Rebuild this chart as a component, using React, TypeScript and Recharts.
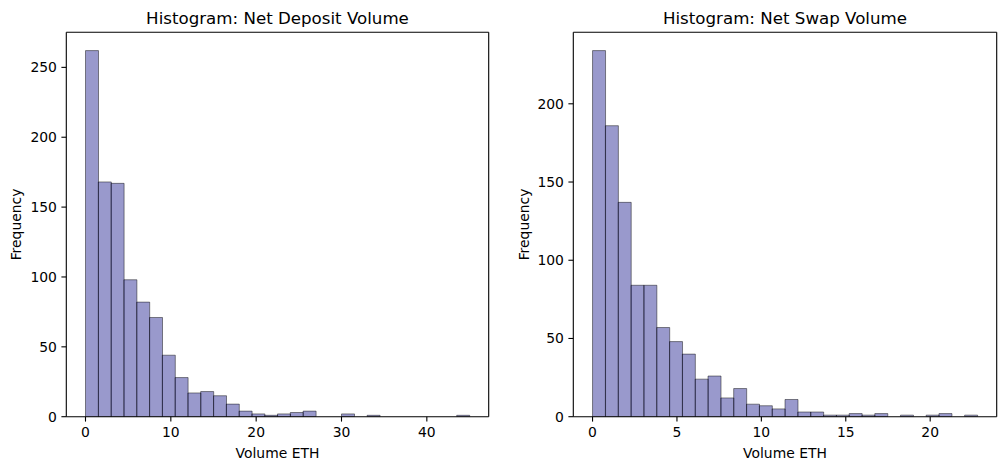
import { ComposedChart, Bar, Line, XAxis, YAxis } from 'recharts';

// bin counts (30 bins each)
const depositCounts = [262, 168, 167, 98, 82, 71, 44, 28, 17, 18, 15, 9, 4, 2, 1, 2, 3, 4, 0, 0, 2, 0, 1, 0, 0, 0, 0, 0, 0, 1];
const swapCounts = [234, 186, 137, 84, 84, 57, 48, 40, 24, 26, 12, 18, 8, 7, 5, 11, 3, 3, 1, 1, 2, 1, 2, 0, 1, 0, 1, 2, 0, 1];

// value range covered by the bins (ETH)
const depositRange = [0, 45];
const swapRange = [0, 22.8];

const depositXTicks = [0, 10, 20, 30, 40];
const swapXTicks = [0, 5, 10, 15, 20];
const depositYTicks = [0, 50, 100, 150, 200, 250];
const swapYTicks = [0, 50, 100, 150, 200];

const FONT = '"DejaVu Sans", sans-serif';
const tickStyle = { fontSize: 13.9, fill: '#000', fontFamily: FONT };
const spine = { stroke: '#000', strokeWidth: 1.1 };

interface HistProps {
  title: string;
  counts: number[];
  range: number[];
  xTicks: number[];
  yTicks: number[];
  width: number;
  yAxisWidth: number;
  rightMargin: number;
  yLabelOffset: number;
}

const Histogram = ({ title, counts, range, xTicks, yTicks, width, yAxisWidth, rightMargin, yLabelOffset }: HistProps) => {
  const n = counts.length;
  const step = (range[1] - range[0]) / n;
  // bar centres: by bin index (drives bar width) and in ETH (drives the tick axis)
  const data = counts.map((c, i) => ({ bin: i + 0.5, eth: range[0] + (i + 0.5) * step, count: c }));
  const span = range[1] - range[0];
  const ethDomain = [range[0] - 0.05 * span, range[1] + 0.05 * span];
  const binDomain = [-0.05 * n, n * 1.05];
  const yMax = Math.max(...counts) * 1.05;

  return (
    <ComposedChart
      width={width}
      height={470}
      data={data}
      margin={{ top: 31.3, right: rightMargin, bottom: 0, left: 0 }}
      barCategoryGap={0}
      barGap={0}
      style={{ fontFamily: FONT }}
    >
      <XAxis
        xAxisId="bins"
        orientation="top"
        dataKey="bin"
        type="number"
        domain={binDomain}
        tickCount={n + 4}
        allowDataOverflow
        height={1}
        tick={false}
        tickLine={false}
        axisLine={spine}
        label={{ value: title, position: 'top', offset: 7.3, style: { fontSize: 16.67, fill: '#000', fontFamily: FONT } }}
      />
      <XAxis
        xAxisId="eth"
        dataKey="eth"
        type="number"
        domain={ethDomain}
        allowDataOverflow
        ticks={xTicks}
        height={53.3}
        tick={tickStyle}
        tickSize={4.9}
        tickMargin={5.8}
        tickLine={spine}
        axisLine={spine}
        label={{ value: 'Volume ETH', position: 'insideBottom', offset: 11.7, style: { fontSize: 13.9, fill: '#000', fontFamily: FONT } }}
      />
      <YAxis
        type="number"
        domain={[0, yMax]}
        allowDataOverflow
        ticks={yTicks}
        width={yAxisWidth}
        tick={tickStyle}
        tickSize={4.9}
        tickMargin={4.5}
        tickLine={spine}
        axisLine={spine}
        label={{ value: 'Frequency', angle: -90, position: 'insideLeft', offset: yLabelOffset, style: { fontSize: 13.9, fill: '#000', fontFamily: FONT, textAnchor: 'middle' } }}
      />
      <YAxis
        yAxisId="right"
        orientation="right"
        type="number"
        domain={[0, yMax]}
        allowDataOverflow
        width={1}
        tick={false}
        tickLine={false}
        axisLine={spine}
      />
      <Bar
        xAxisId="bins"
        dataKey="count"
        fill="#000080"
        fillOpacity={0.4}
        stroke="#000"
        strokeOpacity={0.45}
        strokeWidth={1}
        isAnimationActive={false}
      />
      {/* invisible series so the ETH axis and right frame get a domain */}
      <Line
        xAxisId="eth"
        yAxisId="right"
        dataKey="count"
        stroke="none"
        dot={false}
        activeDot={false}
        legendType="none"
        isAnimationActive={false}
      />
    </ComposedChart>
  );
};

const App = () => {
  return (
    <div style={{ position: 'absolute', left: 0, top: 0, width: 1005, height: 470, background: '#fff', fontFamily: FONT }}>
      <div style={{ position: 'absolute', left: 0, top: 0 }}>
        <Histogram
          title="Histogram: Net Deposit Volume"
          counts={depositCounts}
          range={depositRange}
          xTicks={depositXTicks}
          yTicks={depositYTicks}
          width={500}
          yAxisWidth={66.3}
          rightMargin={10.3}
          yLabelOffset={16.2}
        />
      </div>
      <div style={{ position: 'absolute', left: 500, top: 0 }}>
        <Histogram
          title="Histogram: Net Swap Volume"
          counts={swapCounts}
          range={swapRange}
          xTicks={swapXTicks}
          yTicks={swapYTicks}
          width={505}
          yAxisWidth={73.3}
          rightMargin={7.3}
          yLabelOffset={24.2}
        />
      </div>
    </div>
  );
};

export default App;
